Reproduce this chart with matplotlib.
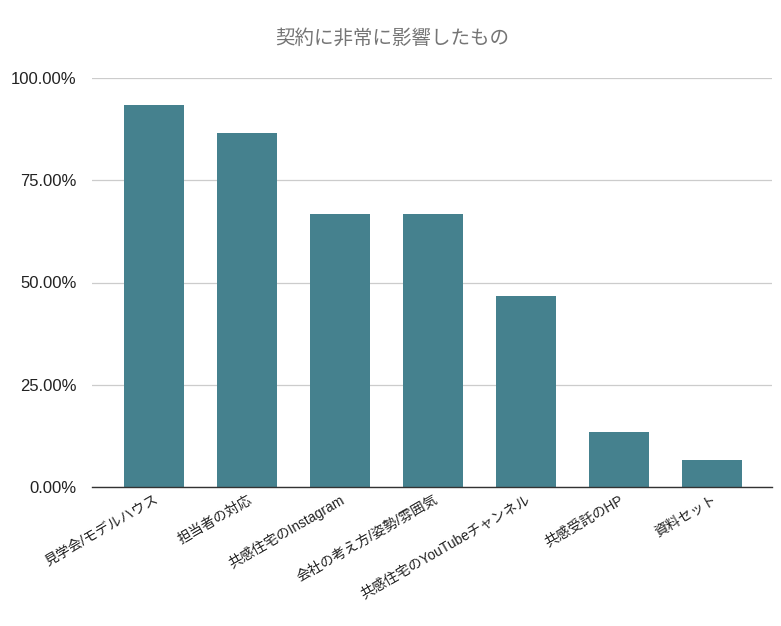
import matplotlib
matplotlib.use("Agg")
import matplotlib.pyplot as plt
from matplotlib.ticker import FuncFormatter

plt.rcParams['font.family'] = ['Liberation Sans', 'Noto Sans CJK JP', 'DejaVu Sans']

# chart data
title = "契約に非常に影響したもの"
categories = ["見学会/モデルハウス", "担当者の対応", "共感住宅のInstagram",
              "会社の考え方/姿勢/雰囲気", "共感住宅のYouTubeチャンネル",
              "共感受託のHP", "資料セット"]
shares = [0.9333, 0.8667, 0.6667, 0.6667, 0.4667, 0.1333, 0.0667]
y_ticks = [0.0, 0.25, 0.5, 0.75, 1.0]

bar_color = "#45818e"

fig = plt.figure(figsize=(7.81, 6.26), dpi=100)
ax = fig.add_axes([92 / 781, 1 - 487 / 626, 680 / 781, 409 / 626])

x = range(len(categories))
ax.bar(x, shares, width=0.645, color=bar_color, zorder=3)

ax.set_xlim(-0.667, 6.645)
ax.set_ylim(0, 1.0)
ax.set_yticks(y_ticks)
ax.yaxis.set_major_formatter(FuncFormatter(lambda v, p: f"{v * 100:.2f}%"))
ax.grid(axis="y", color="#cccccc", linewidth=0.9, zorder=0)
ax.set_axisbelow(True)

for side in ("left", "right", "top"):
    ax.spines[side].set_visible(False)
ax.spines["bottom"].set_color("#333333")
ax.spines["bottom"].set_linewidth(1.0)
ax.spines["bottom"].set_zorder(4)

ax.tick_params(axis="y", length=0, pad=11, labelsize=12, labelcolor="#222222")
ax.tick_params(axis="x", length=0, pad=4)
ax.set_xticks(list(x))
ax.set_xticklabels(categories, rotation=30, ha="right", rotation_mode="anchor",
                   fontsize=10, color="#222222")
for lbl in ax.get_xticklabels():
    lbl.set_family(['Liberation Sans', 'Noto Sans CJK JP'])

fig.text(392 / 781, 1 - 38 / 626, title, ha="center", va="center",
         fontsize=14, color="#757575", family=['Noto Sans CJK JP', 'DejaVu Sans'])

fig.savefig("out.png", dpi=100)
